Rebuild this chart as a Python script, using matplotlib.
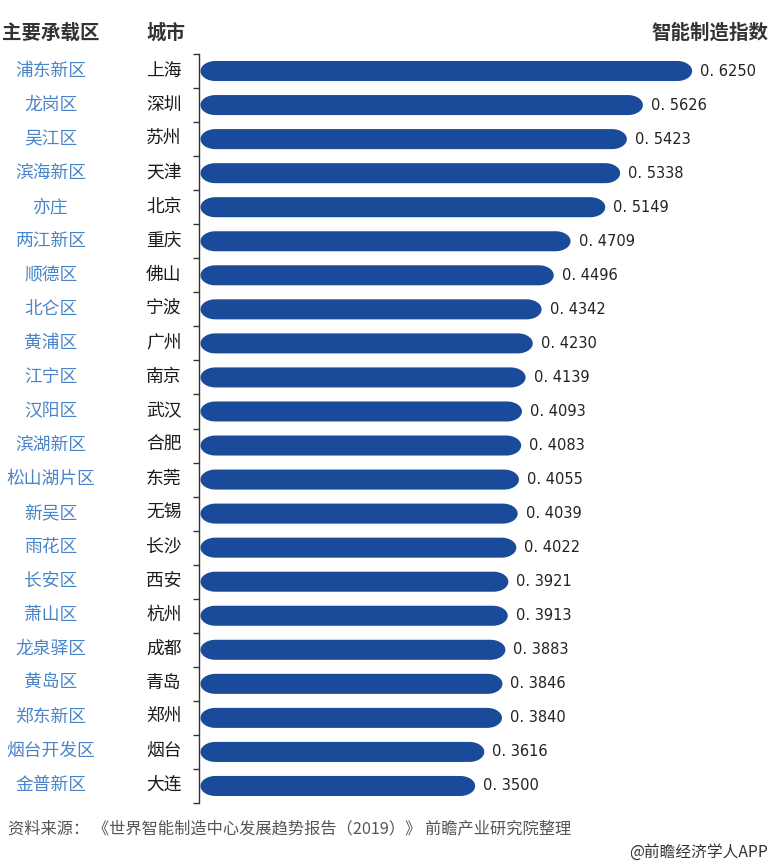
import matplotlib
matplotlib.use("Agg")
import numpy as np
import matplotlib.pyplot as plt
from matplotlib.patches import Polygon
from matplotlib.ticker import FixedLocator, NullFormatter

plt.rcParams['font.family'] = ['Noto Sans CJK SC', 'DejaVu Sans']

regions = ["浦东新区", "龙岗区", "吴江区", "滨海新区", "亦庄", "两江新区", "顺德区", "北仑区",
           "黄浦区", "江宁区", "汉阳区", "滨湖新区", "松山湖片区", "新吴区", "雨花区", "长安区",
           "萧山区", "龙泉驿区", "黄岛区", "郑东新区", "烟台开发区", "金普新区"]
cities = ["上海", "深圳", "苏州", "天津", "北京", "重庆", "佛山", "宁波", "广州", "南京", "武汉",
          "合肥", "东莞", "无锡", "长沙", "西安", "杭州", "成都", "青岛", "郑州", "烟台", "大连"]
values = [0.6250, 0.5626, 0.5423, 0.5338, 0.5149, 0.4709, 0.4496, 0.4342, 0.4230, 0.4139, 0.4093,
          0.4083, 0.4055, 0.4039, 0.4022, 0.3921, 0.3913, 0.3883, 0.3846, 0.3840, 0.3616, 0.3500]

W, H = 771, 866
fig = plt.figure(figsize=(W / 100, H / 100), dpi=100)
ax_left, ax_right = 199, 771
ax_top, ax_bot = 54, 803
ax = fig.add_axes([ax_left / W, 1 - ax_bot / H, (ax_right - ax_left) / W, (ax_bot - ax_top) / H])
px_per_unit = 789.0
row_px = 34.0
xmax = (ax_right - ax_left) / px_per_unit
n = len(values)
ax.set_xlim(0, xmax)
ax.set_ylim(n - 0.5, -0.5)

bar_h = 20 / row_px          # bar thickness in row units
end_w = 30 / px_per_unit     # elliptical end width in data units
start = 1.5 / px_per_unit
bar_color = "#1a4a9a"

t_right = np.linspace(-np.pi / 2, np.pi / 2, 40)
t_left = np.linspace(np.pi / 2, 3 * np.pi / 2, 40)
for i, v in enumerate(values):
    cl = start + end_w / 2
    cr = v - end_w / 2
    xr = cr + (end_w / 2) * np.cos(t_right)
    yr = i + (bar_h / 2) * np.sin(t_right)
    xl = cl + (end_w / 2) * np.cos(t_left)
    yl = i + (bar_h / 2) * np.sin(t_left)
    pts = np.column_stack([np.concatenate([xr, xl]), np.concatenate([yr, yl])])
    ax.add_patch(Polygon(pts, closed=True, facecolor=bar_color, edgecolor='none', lw=0))
    ax.text(v + 8 / px_per_unit, i, f"{v:.4f}".replace('.', '. '), va='center', ha='left',
            fontsize=10.5, color='#222222', family=['DejaVu Sans'])

for s in ['top', 'right', 'bottom']:
    ax.spines[s].set_visible(False)
ax.spines['left'].set_color('#333333')
ax.spines['left'].set_linewidth(1.0)
ax.set_xticks([])
ax.set_yticks([])
ax.yaxis.set_minor_locator(FixedLocator([k - 0.5 for k in range(n + 1)]))
ax.yaxis.set_minor_formatter(NullFormatter())
ax.tick_params(axis='y', which='minor', direction='out', length=4, width=1, color='#333333')

# row labels
for i in range(n):
    yfig = 1 - (71 + i * 34) / H
    fig.text(51 / W, yfig, regions[i], ha='center', va='center', fontsize=12.8, color='#4a84c8')
    fig.text(146 / W, yfig, cities[i], ha='left', va='center', fontsize=12.8, color='#1a1a1a')

# headers
fig.text(2 / W, 1 - 33 / H, "主要承载区", ha='left', va='center', fontsize=14, fontweight='bold', color='#333333')
fig.text(146 / W, 1 - 33 / H, "城市", ha='left', va='center', fontsize=14, fontweight='bold', color='#333333')
fig.text(768 / W, 1 - 33 / H, "智能制造指数", ha='right', va='center', fontsize=14, fontweight='bold', color='#333333')

fig.text(8 / W, 1 - 829 / H, "资料来源： 《世界智能制造中心发展趋势报告（2019）》 前瞻产业研究院整理",
         ha='left', va='center', fontsize=11.7, style='italic', color='#555555')
fig.text(768 / W, 1 - 852 / H, "@前瞻经济学人APP", ha='right', va='center', fontsize=11.3, color='#333333')

fig.savefig("out.png", dpi=100)
